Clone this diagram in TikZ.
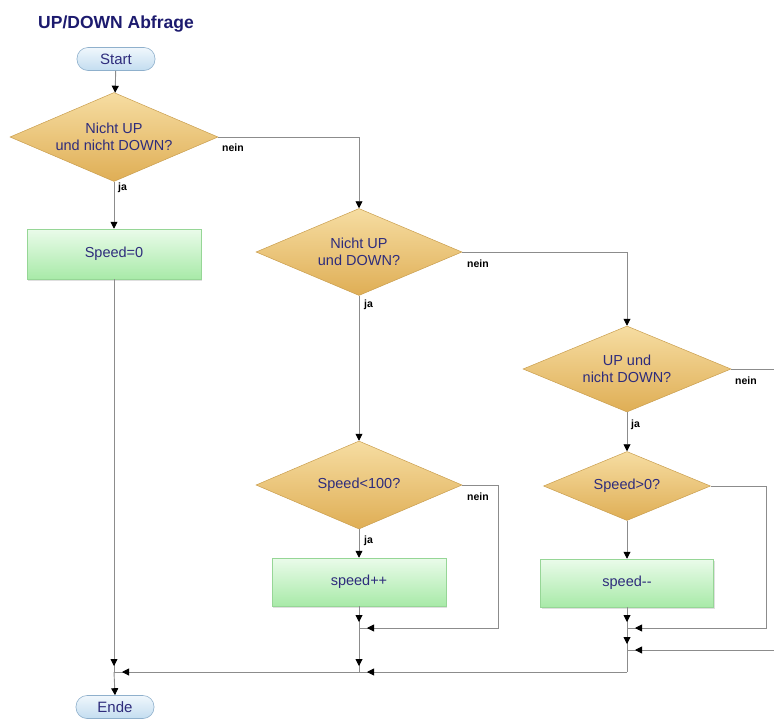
\documentclass[tikz,border=0pt]{standalone}
\usepackage{fontspec}
\setmainfont{Liberation Sans}
\usetikzlibrary{shapes.geometric,arrows.meta,decorations.markings,shadows}
\definecolor{txt}{HTML}{2E2C7C}
\definecolor{titlec}{HTML}{1C1A6E}
\definecolor{decT}{HTML}{F6DDA2}
\definecolor{decB}{HTML}{DFAE55}
\definecolor{decD}{HTML}{C99E4E}
\definecolor{boxT}{HTML}{EAFBEA}
\definecolor{boxB}{HTML}{A8EAA8}
\definecolor{boxD}{HTML}{96D696}
\definecolor{pilT}{HTML}{F0F7FC}
\definecolor{pilB}{HTML}{C3DDF0}
\definecolor{pilD}{HTML}{8FB0CC}
\definecolor{linec}{HTML}{8C8C8C}
\begin{document}
\begin{tikzpicture}[x=1pt,y=-1pt,
  tipshape/.tip={Triangle[length=7pt,width=7pt,color=black]},
  conn/.style={draw=linec, line width=0.9pt},
  arr/.style={conn, -{tipshape}},
  tipat/.style={postaction={decorate}, decoration={markings, mark=at position #1 with {\arrow{tipshape}}}},
  dec/.style={diamond, draw=decD, line width=0.5pt, top color=decT, bottom color=decB, inner sep=0pt, aspect=2.3, align=center, text=txt, font=\fontsize{14.5}{17}\selectfont},
  proc/.style={rectangle, draw=boxD, line width=0.5pt, top color=boxT, bottom color=boxB, inner sep=0pt, text=txt, font=\fontsize{14.5}{17}\selectfont, drop shadow={shadow xshift=1pt, shadow yshift=-1.5pt, opacity=0.25}},
  term/.style={rectangle, rounded corners=11pt, draw=pilD, line width=0.6pt, top color=pilT, bottom color=pilB, inner sep=0pt, minimum width=78pt, minimum height=23pt, text=txt, font=\fontsize{15}{17}\selectfont},
  lab/.style={anchor=west, inner sep=0pt, font=\bfseries\fontsize{10.5}{12}\selectfont, text=black}]
\useasboundingbox (0,0) rectangle (774,718);

\node[anchor=base west, inner sep=0pt, font=\bfseries\fontsize{17.5}{20}\selectfont, text=titlec] (title) at (38,28) {UP/DOWN Abfrage};

\node[term] (start) at (116,59) {Start};
\node[dec, minimum width=208pt, minimum height=89pt] (d1) at (114,137) {Nicht UP\\und nicht DOWN?};
\node[proc, minimum width=174pt, minimum height=50pt] (b1) at (114,254) {Speed=0};
\node[dec, minimum width=206pt, minimum height=87pt] (d2) at (359,252) {Nicht UP\\und DOWN?};
\node[dec, minimum width=208pt, minimum height=86pt] (d3) at (627,369) {UP und\\nicht DOWN?};
\node[dec, minimum width=206pt, minimum height=88pt] (d4) at (359,485) {Speed<100?};
\node[proc, minimum width=174pt, minimum height=48pt] (b2) at (359,582) {speed++};
\node[dec, minimum width=167pt, minimum height=69pt] (d5) at (627,486) {Speed>0?};
\node[proc, minimum width=173pt, minimum height=48pt] (b3) at (627,583) {speed{-}{-}};
\node[term] (ende) at (115,707) {Ende};

\coordinate (j4) at (359,628);
\coordinate (c4) at (498,628);
\coordinate (j5a) at (627,628);
\coordinate (c5) at (766,628);
\coordinate (j5b) at (627,650);
\coordinate (r3) at (774,650);
\coordinate (x3) at (774,369);
\coordinate (m1) at (114,672);
\coordinate (m2) at (359,672);
\coordinate (m3) at (627,672);

\draw[arr] (start) -- (d1);
\draw[arr] (d1.east) -| (d2.north);
\draw[arr] (d1.south) -- (b1.north);
\draw[conn, tipat=-6pt] (b1.south) -- (m1);
\draw[arr] (m1) -- (ende.north);
\draw[arr] (d2.east) -| (d3.north);
\draw[arr] (d2.south) -- (d4.north);
\draw[conn] (d3.east) -- (x3);
\draw[arr] (d3.south) -- (d5.north);
\draw[arr] (d4.south) -- (b2.north);
\draw[conn, tipat=-8pt] (d4.east) -| (c4) -- (j4);
\draw[conn, tipat=-6pt] (b2.south) -- (j4);
\draw[conn, tipat=-6pt] (j4) -- (m2);
\draw[arr] (d5.south) -- (b3.north);
\draw[conn, tipat=-8pt] (d5.east) -| (c5) -- (j5a);
\draw[conn, tipat=-6pt] (b3.south) -- (j5a);
\draw[conn, tipat=-6pt] (j5a) -- (j5b);
\draw[conn, tipat=-8pt] (r3) -- (j5b);
\draw[conn] (j5b) -- (m3);
\draw[conn, tipat=-8pt] (m3) -- (m2);
\draw[conn, tipat=-8pt] (m2) -- (m1);

\node[lab] (n1) at (222,148) {nein};
\node[lab] (y1) at (118,188) {ja};
\node[lab] (n2) at (467,264) {nein};
\node[lab] (y2) at (364,305) {ja};
\node[lab] (n3) at (735,381) {nein};
\node[lab] (y3) at (631,425) {ja};
\node[lab] (n4) at (467,497) {nein};
\node[lab] (y4) at (364,541) {ja};
\end{tikzpicture}
\end{document}
